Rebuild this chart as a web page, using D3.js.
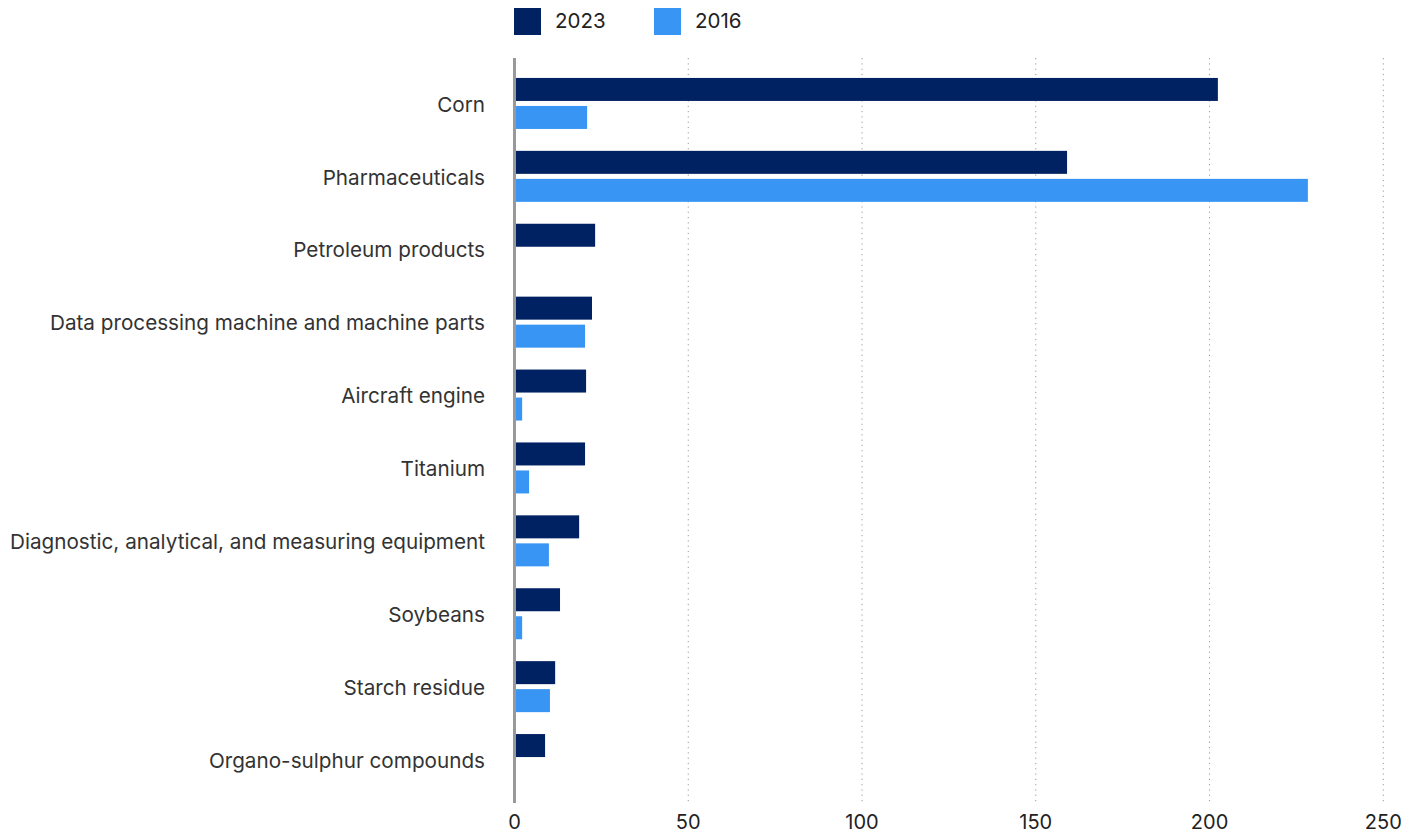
<!DOCTYPE html>
<html>
<head>
<meta charset="utf-8">
<script src="https://cdn.jsdelivr.net/npm/d3@7"></script>
<style>
  html, body { margin: 0; padding: 0; background: #ffffff; }
  svg { display: block; font-family: Inter, "Liberation Sans", Arial, sans-serif; }
</style>
</head>
<body>
<svg id="chart" width="1419" height="833"></svg>
<script>
// Product categories, top to bottom
const categories = [
  "Corn",
  "Pharmaceuticals",
  "Petroleum products",
  "Data processing machine and machine parts",
  "Aircraft engine",
  "Titanium",
  "Diagnostic, analytical, and measuring equipment",
  "Soybeans",
  "Starch residue",
  "Organo-sulphur compounds"
];
// Series values per category
const values2023 = [202.4, 159.0, 23.2, 22.3, 20.6, 20.3, 18.6, 13.1, 11.7, 8.8];
const values2016 = [20.9, 228.3, 0, 20.3, 2.2, 4.2, 9.9, 2.2, 10.2, 0];
const seriesNames = ["2023", "2016"];
const seriesColors = ["#002263", "#3895f4"];
const xTicks = [0, 50, 100, 150, 200, 250];

const svg = d3.select("#chart");
const margin = { left: 514.5, right: 1383.3, top: 67, bottom: 796 };

const x = d3.scaleLinear().domain([0, 250]).range([margin.left, margin.right]);
const y = d3.scaleBand().domain(categories).range([margin.top, margin.bottom]);

const series = [values2023, values2016];
const barH = 23, barGap = 5;

// Dotted vertical gridlines
svg.append("g")
  .selectAll("line")
  .data(xTicks.filter(d => d > 0))
  .join("line")
  .attr("x1", d => x(d)).attr("x2", d => x(d))
  .attr("y1", 58).attr("y2", 803)
  .attr("stroke", "#9a9a9a")
  .attr("stroke-width", 1)
  .attr("stroke-dasharray", "1.2,4.1");

// Bars: one pair per category
const groups = svg.append("g").selectAll("g")
  .data(categories)
  .join("g")
  .attr("transform", d => `translate(0,${y(d) + y.bandwidth() / 2 - (2 * barH + barGap) / 2})`);

seriesNames.forEach((name, si) => {
  groups.append("rect")
    .attr("x", x(0))
    .attr("y", si * (barH + barGap))
    .attr("height", barH)
    .attr("width", (d, i) => Math.max(0, x(series[si][i]) - x(0)))
    .attr("fill", seriesColors[si]);
});

// Baseline axis
svg.append("line")
  .attr("x1", x(0)).attr("x2", x(0))
  .attr("y1", 58).attr("y2", 803)
  .attr("stroke", "#999999")
  .attr("stroke-width", 3);

// Category labels
svg.append("g")
  .selectAll("text")
  .data(categories)
  .join("text")
  .attr("x", 485)
  .attr("y", d => y(d) + y.bandwidth() / 2 + 1)
  .attr("dy", "0.35em")
  .attr("text-anchor", "end")
  .attr("font-size", 20.7)
  .attr("fill", "#333333")
  .text(d => d);

// X tick labels
svg.append("g")
  .selectAll("text")
  .data(xTicks)
  .join("text")
  .attr("x", d => x(d))
  .attr("y", 822)
  .attr("dy", "0.35em")
  .attr("text-anchor", "middle")
  .attr("font-size", 20)
  .attr("fill", "#222222")
  .text(d => d);

// Legend
const legend = svg.append("g");
const legendX = [514, 654];
seriesNames.forEach((name, i) => {
  legend.append("rect")
    .attr("x", legendX[i]).attr("y", 8)
    .attr("width", 27).attr("height", 27)
    .attr("fill", seriesColors[i]);
  legend.append("text")
    .attr("x", legendX[i] + 41)
    .attr("y", 20.5)
    .attr("dy", "0.35em")
    .attr("font-size", 20.5)
    .attr("fill", "#222222")
    .text(name);
});
</script>
</body>
</html>
